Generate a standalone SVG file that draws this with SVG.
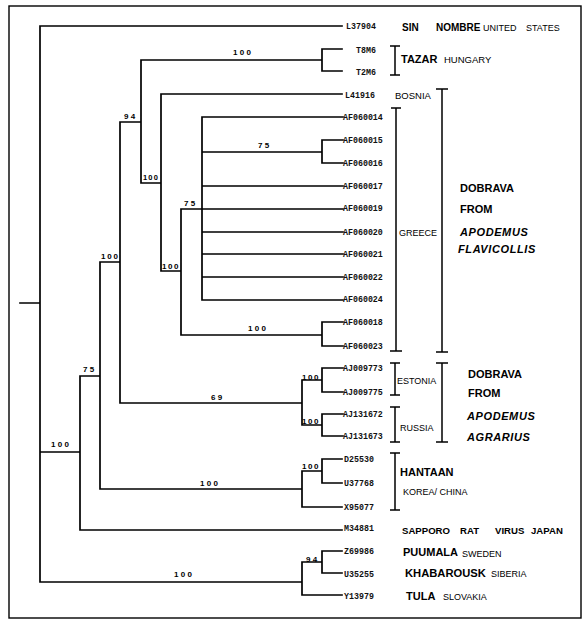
<svg xmlns="http://www.w3.org/2000/svg" width="587" height="626" viewBox="0 0 587 626">
<style>
.ln{fill:none;stroke:#000;stroke-width:1.7;stroke-linecap:square}
.br{fill:none;stroke:#000;stroke-width:1.5}
.leaf{font-family:"Liberation Mono",monospace;font-weight:bold;font-size:8.3px;fill:#111}
.bs{font-family:"Liberation Sans",Arial,sans-serif;font-weight:bold;font-size:8px;letter-spacing:2.3px;fill:#000}
.gb{font-family:"Liberation Sans",Arial,sans-serif;font-weight:bold;font-size:11px;fill:#000}
.gbi{font-family:"Liberation Sans",Arial,sans-serif;font-weight:bold;font-style:italic;font-size:11px;letter-spacing:0.6px;fill:#000}
.gr{font-family:"Liberation Sans",Arial,sans-serif;font-size:9.5px;fill:#000}
</style>
<rect x="0" y="0" width="587" height="626" fill="#fff"/>
<rect x="9" y="6" width="572" height="612" fill="none" stroke="#000" stroke-width="1.4"/>
<g id="connectors">
<path class="ln" d="M20 303H40M40 26V582M40 26H342M40 452H80M80 376V530M80 530H342M80 376H100M100 262V489M100 489H302M302 471V507M302 471H322M302 507H342M322 459V483M322 459H342M322 483H342M100 262H120M120 122V403M120 403H302M302 380V425M302 380H322M302 425H322M322 368V392M322 368H343M322 392H343M322 414V436M322 414H343M322 436H343M120 122H141M141 60V183M141 60H322M322 49V71M322 49H342M322 71H342M141 183H161M161 94V271M161 94H342M161 271H181M181 209V335M181 335H322M322 322V346M322 322H343M322 346H343M181 209H343M202 117V300M202 117H343M202 152H322M322 140V163M322 140H343M322 163H343M202 186H343M202 232H343M202 254H343M202 277H343M202 300H343M40 582H302M302 562V595M302 562H322M302 595H342M322 551V573M322 551H342M322 573H342"/>
<path class="br" d="M395 46V75M390 46H400M390 75H400M396 108V351M391 108H401M390 351H402M442 89V352M436 89H448M436 352H448M395 363V395M390 363H400M390 395H400M395 407V442M390 407H400M390 442H400M442 363V442M436 363H448M436 442H448M395 453V510M390 453H400M390 510H400"/>
</g>
<g id="bootstrap">
<text class="bs" x="233" y="55">100</text>
<text class="bs" x="124" y="119">94</text>
<text class="bs" x="143" y="180" style="letter-spacing:1.2px;font-size:7.5px">100</text>
<text class="bs" x="258" y="148">75</text>
<text class="bs" x="184" y="206">75</text>
<text class="bs" x="162" y="269" style="letter-spacing:1.5px">100</text>
<text class="bs" x="101" y="259" style="letter-spacing:1.8px">100</text>
<text class="bs" x="248" y="331">100</text>
<text class="bs" x="83" y="372">75</text>
<text class="bs" x="211" y="400">69</text>
<text class="bs" x="51" y="447">100</text>
<text class="bs" x="200" y="486">100</text>
<text class="bs" x="174" y="577">100</text>
<text class="bs" x="302" y="380" style="letter-spacing:1.6px">100</text>
<text class="bs" x="302" y="424" style="letter-spacing:1.6px">100</text>
<text class="bs" x="302" y="469" style="letter-spacing:1.6px">100</text>
<text class="bs" x="306" y="562">94</text>
</g>
<g id="leaves">
<text class="leaf" x="346" y="29">L37904</text>
<text class="leaf" x="356" y="53">T8M6</text>
<text class="leaf" x="356" y="75">T2M6</text>
<text class="leaf" x="345" y="98">L41916</text>
<text class="leaf" x="343" y="120">AF060014</text>
<text class="leaf" x="343" y="143">AF060015</text>
<text class="leaf" x="343" y="166">AF060016</text>
<text class="leaf" x="343" y="189">AF060017</text>
<text class="leaf" x="343" y="211">AF060019</text>
<text class="leaf" x="343" y="235">AF060020</text>
<text class="leaf" x="343" y="257">AF060021</text>
<text class="leaf" x="343" y="280">AF060022</text>
<text class="leaf" x="343" y="302">AF060024</text>
<text class="leaf" x="343" y="325">AF060018</text>
<text class="leaf" x="343" y="349">AF060023</text>
<text class="leaf" x="343" y="371">AJ009773</text>
<text class="leaf" x="343" y="395">AJ009775</text>
<text class="leaf" x="343" y="417">AJ131672</text>
<text class="leaf" x="343" y="439">AJ131673</text>
<text class="leaf" x="344" y="462">D25530</text>
<text class="leaf" x="344" y="486">U37768</text>
<text class="leaf" x="344" y="510">X95077</text>
<text class="leaf" x="344" y="531">M34881</text>
<text class="leaf" x="344" y="554">Z69986</text>
<text class="leaf" x="344" y="577">U35255</text>
<text class="leaf" x="344" y="599">Y13979</text>
</g>
<g id="sin-nombre">
<text class="gb" x="402" y="31" style="font-size:10px">SIN</text>
<text class="gb" x="436" y="31" style="font-size:10px">NOMBRE</text>
<text class="gr" x="483" y="31" style="font-size:9px">UNITED <tspan x="526">STATES</tspan></text>
</g>
<g id="tazar">
<text class="gb" x="401" y="63">TAZAR</text>
<text class="gr" x="444" y="63">HUNGARY</text>
</g>
<g id="bosnia"><text class="gr" x="395" y="98.5">BOSNIA</text></g>
<g id="greece"><text class="gr" x="399" y="235.5" style="font-size:9px">GREECE</text></g>
<g id="dobrava-flavicollis">
<text class="gb" x="460" y="192">DOBRAVA</text>
<text class="gb" x="460" y="213">FROM</text>
<text class="gbi" x="460" y="236">APODEMUS</text>
<text class="gbi" x="458" y="253">FLAVICOLLIS</text>
</g>
<g id="estonia"><text class="gr" x="397" y="383.5" style="font-size:9px">ESTONIA</text></g>
<g id="russia"><text class="gr" x="400" y="430.5" style="font-size:9px">RUSSIA</text></g>
<g id="dobrava-agrarius">
<text class="gb" x="468" y="378">DOBRAVA</text>
<text class="gb" x="468" y="397">FROM</text>
<text class="gbi" x="467" y="420">APODEMUS</text>
<text class="gbi" x="467" y="441">AGRARIUS</text>
</g>
<g id="hantaan">
<text class="gb" x="400" y="476">HANTAAN</text>
<text class="gr" x="403" y="494.5" style="font-size:9px">KOREA/ CHINA</text>
</g>
<g id="sapporo">
<text class="gb" x="402" y="534" style="font-size:9.6px">SAPPORO<tspan x="460">RAT</tspan><tspan x="495">VIRUS</tspan><tspan x="531">JAPAN</tspan></text>
</g>
<g id="puumala">
<text class="gb" x="403" y="556">PUUMALA</text>
<text class="gr" x="462" y="557" style="font-size:9px">SWEDEN</text>
</g>
<g id="khabarousk">
<text class="gb" x="405" y="577" style="font-size:11.2px">KHABAROUSK</text>
<text class="gr" x="491" y="577" style="font-size:9px">SIBERIA</text>
</g>
<g id="tula">
<text class="gb" x="406" y="600" style="font-size:11px">TULA</text>
<text class="gr" x="443" y="600" style="font-size:9px">SLOVAKIA</text>
</g>
</svg>
